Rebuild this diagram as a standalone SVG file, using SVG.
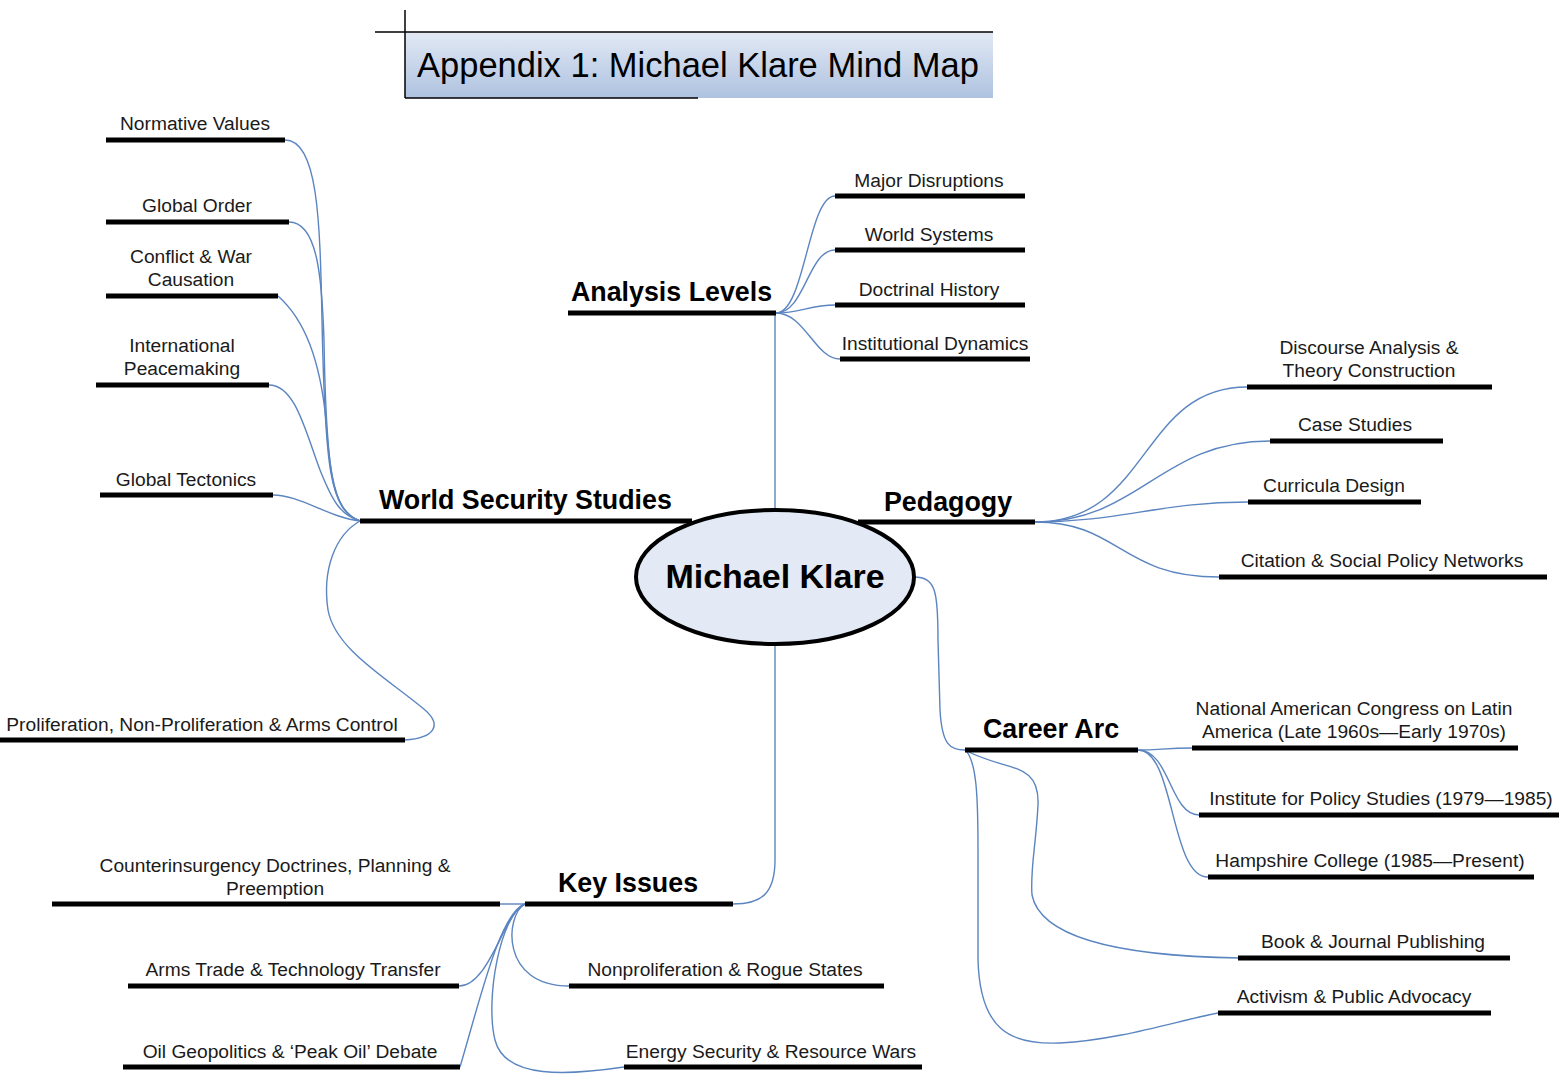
<svg xmlns="http://www.w3.org/2000/svg" width="1559" height="1079" viewBox="0 0 1559 1079">
<defs>
<linearGradient id="tg" x1="0" y1="0" x2="0" y2="1">
<stop offset="0" stop-color="#e2e9f4"/>
<stop offset="1" stop-color="#aec2e0"/>
</linearGradient>
<style>
.bar{stroke:#000;stroke-width:5;fill:none}
.con{stroke:#5b85c0;stroke-width:1.4;fill:none}
.leaf{font-family:"Liberation Sans",Arial,sans-serif;font-size:19.2px;fill:#1a1a1a;text-anchor:middle}
.main{font-family:"Liberation Sans",Arial,sans-serif;font-size:26.8px;font-weight:bold;fill:#000}
</style>
</defs>
<rect width="1559" height="1079" fill="#fff"/>

<g id="title">
<rect x="405" y="32" width="588" height="66" fill="url(#tg)"/>
<line x1="375" y1="32" x2="993" y2="32" stroke="#000" stroke-width="1.5"/>
<line x1="405" y1="10" x2="405" y2="98" stroke="#000" stroke-width="1.5"/>
<line x1="405" y1="98" x2="698" y2="98" stroke="#000" stroke-width="1.5"/>
<text x="417" y="77" font-family="Liberation Sans, Arial, sans-serif" font-size="34.5" fill="#000">Appendix 1: Michael Klare Mind Map</text>
</g>

<g id="connectors">
<path class="con" d="M775,313 L775,509"/>
<path class="con" d="M775,645 L775,860 C775,895 760,904 733,904"/>
<path class="con" d="M914,577 C936,577 938,592 938,640 L940,710 C942,745 950,750 965,750"/>
<path class="con" d="M776,313 C805,313 808,196 835,196"/>
<path class="con" d="M776,313 C805,313 808,250 835,250"/>
<path class="con" d="M776,313 C800,313 810,305 835,305"/>
<path class="con" d="M776,313 C805,313 815,359 840,359"/>
<path class="con" d="M1035,522 C1150,522 1140,387 1247,387"/>
<path class="con" d="M1035,522 C1140,522 1160,441 1270,441"/>
<path class="con" d="M1035,522 C1120,522 1160,502 1248,502"/>
<path class="con" d="M1035,522 C1120,522 1120,577 1219,577"/>
<path class="con" d="M1138,750 C1160,750 1165,748 1192,748"/>
<path class="con" d="M1138,750 C1170,750 1170,815 1199,815"/>
<path class="con" d="M1138,750 C1175,750 1170,877 1208,877"/>
<path class="con" d="M965,750 C1005,772 1040,760 1038,805 C1036,845 1030,870 1032,895 C1040,935 1110,956 1240,958"/>
<path class="con" d="M965,750 C977,760 978,800 978,850 L978,960 C980,1030 1010,1045 1060,1043 C1120,1040 1180,1020 1218,1013"/>
<path class="con" d="M285,140 C318,140 320,220 322,320 C325,470 330,510 360,521"/>
<path class="con" d="M289,222 C318,222 322,280 324,340 C326,470 332,512 360,521"/>
<path class="con" d="M278,296 C305,320 320,360 326,420 C330,480 335,512 360,521"/>
<path class="con" d="M269,385 C295,385 305,430 320,470 C332,500 340,515 360,521"/>
<path class="con" d="M273,495 C300,495 330,518 360,521"/>
<path class="con" d="M360,521 C335,535 322,570 328,610 C335,650 390,680 425,710 C442,725 435,738 405,740"/>
<path class="con" d="M500,904 L525,904"/>
<path class="con" d="M525,904 C505,910 490,986 459,986"/>
<path class="con" d="M525,904 C500,912 480,1000 460,1067"/>
<path class="con" d="M525,904 C505,915 500,986 569,986"/>
<path class="con" d="M525,904 C500,915 485,1000 495,1040 C505,1080 570,1075 624,1067"/>
</g>

<g id="center">
<ellipse cx="775" cy="577" rx="139" ry="67" fill="#e3eaf6" stroke="#000" stroke-width="4"/>
<text x="775" y="588" font-family="Liberation Sans, Arial, sans-serif" font-size="34" font-weight="bold" text-anchor="middle" fill="#000">Michael Klare</text>
</g>

<g id="world-security-studies">
<line class="bar" x1="360" y1="521" x2="692" y2="521"/>
<text class="main" x="379" y="509">World Security Studies</text>
</g>
<g id="pedagogy">
<line class="bar" x1="858" y1="522" x2="1035" y2="522"/>
<text class="main" x="884" y="511">Pedagogy</text>
</g>
<g id="analysis-levels">
<line class="bar" x1="568" y1="313" x2="776" y2="313"/>
<text class="main" x="571" y="301">Analysis Levels</text>
</g>
<g id="career-arc">
<line class="bar" x1="965" y1="750" x2="1138" y2="750"/>
<text class="main" x="983" y="738">Career Arc</text>
</g>
<g id="key-issues">
<line class="bar" x1="525" y1="904" x2="733" y2="904"/>
<text class="main" x="558" y="892">Key Issues</text>
</g>

<g id="major-disruptions"><line class="bar" x1="835" y1="196" x2="1025" y2="196"/><text class="leaf" x="929" y="187">Major Disruptions</text></g>
<g id="world-systems"><line class="bar" x1="835" y1="250" x2="1025" y2="250"/><text class="leaf" x="929" y="241">World Systems</text></g>
<g id="doctrinal-history"><line class="bar" x1="835" y1="305" x2="1025" y2="305"/><text class="leaf" x="929" y="296">Doctrinal History</text></g>
<g id="institutional-dynamics"><line class="bar" x1="840" y1="359" x2="1030" y2="359"/><text class="leaf" x="935" y="350">Institutional Dynamics</text></g>

<g id="discourse-analysis"><line class="bar" x1="1247" y1="387" x2="1492" y2="387"/><text class="leaf" x="1369" y="354">Discourse Analysis &amp;</text><text class="leaf" x="1369" y="377">Theory Construction</text></g>
<g id="case-studies"><line class="bar" x1="1270" y1="441" x2="1443" y2="441"/><text class="leaf" x="1355" y="431">Case Studies</text></g>
<g id="curricula-design"><line class="bar" x1="1248" y1="502" x2="1421" y2="502"/><text class="leaf" x="1334" y="492">Curricula Design</text></g>
<g id="citation-networks"><line class="bar" x1="1219" y1="577" x2="1547" y2="577"/><text class="leaf" x="1382" y="567">Citation &amp; Social Policy Networks</text></g>

<g id="nacla"><line class="bar" x1="1192" y1="748" x2="1518" y2="748"/><text class="leaf" x="1354" y="715">National American Congress on Latin</text><text class="leaf" x="1354" y="738">America (Late 1960s—Early 1970s)</text></g>
<g id="ips"><line class="bar" x1="1199" y1="815" x2="1559" y2="815"/><text class="leaf" x="1381" y="805">Institute for Policy Studies (1979—1985)</text></g>
<g id="hampshire"><line class="bar" x1="1208" y1="877" x2="1534" y2="877"/><text class="leaf" x="1370" y="867">Hampshire College (1985—Present)</text></g>
<g id="publishing"><line class="bar" x1="1238" y1="958" x2="1510" y2="958"/><text class="leaf" x="1373" y="948">Book &amp; Journal Publishing</text></g>
<g id="activism"><line class="bar" x1="1218" y1="1013" x2="1491" y2="1013"/><text class="leaf" x="1354" y="1003">Activism &amp; Public Advocacy</text></g>

<g id="normative-values"><line class="bar" x1="106" y1="140" x2="285" y2="140"/><text class="leaf" x="195" y="130">Normative Values</text></g>
<g id="global-order"><line class="bar" x1="106" y1="222" x2="289" y2="222"/><text class="leaf" x="197" y="212">Global Order</text></g>
<g id="conflict-war"><line class="bar" x1="106" y1="296" x2="278" y2="296"/><text class="leaf" x="191" y="263">Conflict &amp; War</text><text class="leaf" x="191" y="286">Causation</text></g>
<g id="peacemaking"><line class="bar" x1="96" y1="385" x2="269" y2="385"/><text class="leaf" x="182" y="352">International</text><text class="leaf" x="182" y="375">Peacemaking</text></g>
<g id="global-tectonics"><line class="bar" x1="100" y1="495" x2="273" y2="495"/><text class="leaf" x="186" y="486">Global Tectonics</text></g>
<g id="proliferation"><line class="bar" x1="0" y1="740" x2="405" y2="740"/><text class="leaf" x="202" y="731">Proliferation, Non-Proliferation &amp; Arms Control</text></g>

<g id="counterinsurgency"><line class="bar" x1="52" y1="904" x2="500" y2="904"/><text class="leaf" x="275" y="872">Counterinsurgency Doctrines, Planning &amp;</text><text class="leaf" x="275" y="895">Preemption</text></g>
<g id="arms-trade"><line class="bar" x1="128" y1="986" x2="459" y2="986"/><text class="leaf" x="293" y="976">Arms Trade &amp; Technology Transfer</text></g>
<g id="oil-geopolitics"><line class="bar" x1="123" y1="1067" x2="460" y2="1067"/><text class="leaf" x="290" y="1058">Oil Geopolitics &amp; ‘Peak Oil’ Debate</text></g>
<g id="nonproliferation"><line class="bar" x1="569" y1="986" x2="884" y2="986"/><text class="leaf" x="725" y="976">Nonproliferation &amp; Rogue States</text></g>
<g id="energy-security"><line class="bar" x1="624" y1="1067" x2="922" y2="1067"/><text class="leaf" x="771" y="1058">Energy Security &amp; Resource Wars</text></g>
</svg>
